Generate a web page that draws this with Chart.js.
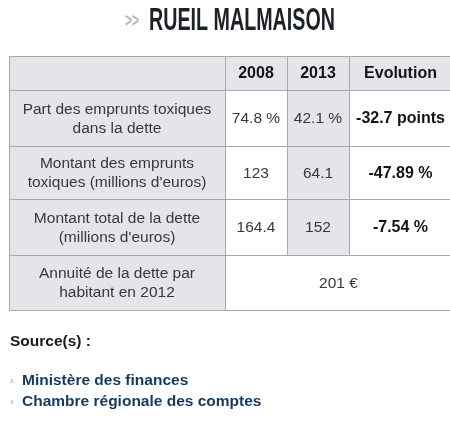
<!DOCTYPE html>
<html>
<head>
<meta charset="utf-8">
<script src="https://cdn.jsdelivr.net/npm/chart.js@4"></script>
<style>
  html, body { margin: 0; padding: 0; background: #fff; overflow: hidden; }
  #wrap { width: 450px; height: 424px; position: relative; }
</style>
</head>
<body>
<div id="wrap"><canvas id="c"></canvas></div>
<script>
// Table content
const pageTitle = 'RUEIL MALMAISON';
const columnHeaders = ['2008', '2013', 'Evolution'];
const rowLabels = [
  ['Part des emprunts toxiques', 'dans la dette'],
  ['Montant des emprunts', "toxiques (millions d'euros)"],
  ['Montant total de la dette', "(millions d'euros)"]
];
const values2008 = [74.8, 123, 164.4];
const values2013 = [42.1, 64.1, 152];
const valueUnits = [' %', '', ''];
const evolution = [-32.7, -47.89, -7.54];
const evolutionUnits = [' points', ' %', ' %'];
const annuityLabel = ['Annuité de la dette par', 'habitant en 2012'];
const annuityValue = 201;
const annuityUnit = ' €';
const sourcesTitle = 'Source(s) :';
const sources = ['Ministère des finances', 'Chambre régionale des comptes'];

// Layout (in scale units = page pixels)
const layout = {
  colEdges: [9, 225, 287, 349, 452],
  rowEdges: [56, 90, 146, 199, 255, 310],
  lineGap: 19
};

const gray = '#e4e5e9';
const border = '#a9a9a9';
const txt = '#383838';
const strong = '#141414';
const FONT = '"Liberation Sans", Arial, sans-serif';

function fmt(v) { return String(v); }

function buildCells() {
  const cells = [];
  cells.push({ c0: 0, c1: 1, r0: 0, r1: 1, fill: gray, lines: [] });
  columnHeaders.forEach((h, i) => {
    cells.push({ c0: i + 1, c1: i + 2, r0: 0, r1: 1, fill: gray, lines: [h], bold: true });
  });
  rowLabels.forEach((lab, i) => {
    const r = i + 1;
    cells.push({ c0: 0, c1: 1, r0: r, r1: r + 1, fill: gray, lines: lab });
    cells.push({ c0: 1, c1: 2, r0: r, r1: r + 1, fill: '#fff', lines: [fmt(values2008[i]) + valueUnits[i]] });
    cells.push({ c0: 2, c1: 3, r0: r, r1: r + 1, fill: gray, lines: [fmt(values2013[i]) + valueUnits[i]] });
    cells.push({ c0: 3, c1: 4, r0: r, r1: r + 1, fill: '#fff', lines: [fmt(evolution[i]) + evolutionUnits[i]], bold: true });
  });
  cells.push({ c0: 0, c1: 1, r0: 4, r1: 5, fill: gray, lines: annuityLabel });
  cells.push({ c0: 1, c1: 4, r0: 4, r1: 5, fill: '#fff', lines: [fmt(annuityValue) + annuityUnit] });
  return cells;
}

const tablePlugin = {
  id: 'tablePlugin',
  afterDraw(chart) {
    const { ctx, scales: { x, y } } = chart;
    const X = v => x.getPixelForValue(v);
    const Y = v => y.getPixelForValue(v);
    const cells = buildCells();
    ctx.save();

    // title
    ctx.textBaseline = 'alphabetic';
    ctx.textAlign = 'left';
    ctx.fillStyle = '#b4b4b4';
    ctx.font = 'bold 20px "Liberation Sans Narrow", ' + FONT;
    let w = ctx.measureText('>>').width;
    ctx.save();
    ctx.translate(X(125), Y(27));
    ctx.scale(14 / w, 1);
    ctx.fillText('>>', 0, 0);
    ctx.restore();
    ctx.fillStyle = '#1c2027';
    ctx.font = 'bold 32px "Liberation Sans Narrow", ' + FONT;
    w = ctx.measureText(pageTitle).width;
    ctx.save();
    ctx.translate(X(149), Y(30));
    ctx.scale(186 / w, 1);
    ctx.fillText(pageTitle, 0, 0);
    ctx.restore();

    // cell fills
    cells.forEach(c => {
      const x0 = X(layout.colEdges[c.c0]), x1 = X(layout.colEdges[c.c1]);
      const y0 = Y(layout.rowEdges[c.r0]), y1 = Y(layout.rowEdges[c.r1]);
      ctx.fillStyle = c.fill;
      ctx.fillRect(x0, y0, x1 - x0, y1 - y0);
    });
    // borders
    ctx.strokeStyle = border;
    ctx.lineWidth = 1;
    cells.forEach(c => {
      const x0 = Math.round(X(layout.colEdges[c.c0])) + 0.5, x1 = Math.round(X(layout.colEdges[c.c1])) + 0.5;
      const y0 = Math.round(Y(layout.rowEdges[c.r0])) + 0.5, y1 = Math.round(Y(layout.rowEdges[c.r1])) + 0.5;
      ctx.strokeRect(x0, y0, x1 - x0, y1 - y0);
    });
    // texts
    ctx.textAlign = 'center';
    ctx.textBaseline = 'middle';
    cells.forEach(c => {
      if (!c.lines.length) return;
      const cx = (X(layout.colEdges[c.c0]) + X(layout.colEdges[c.c1])) / 2;
      const cy = (Y(layout.rowEdges[c.r0]) + Y(layout.rowEdges[c.r1])) / 2 + 1;
      ctx.font = c.bold ? 'bold 16px ' + FONT : '15.5px ' + FONT;
      ctx.fillStyle = c.bold ? strong : txt;
      const n = c.lines.length;
      c.lines.forEach((l, i) => {
        ctx.fillText(l, cx, cy + (i - (n - 1) / 2) * layout.lineGap);
      });
    });

    // sources
    ctx.textAlign = 'left';
    ctx.textBaseline = 'alphabetic';
    ctx.font = 'bold 15.5px ' + FONT;
    ctx.fillStyle = '#1a1a1a';
    ctx.fillText(sourcesTitle, X(10), Y(346));
    sources.forEach((s, i) => {
      const by = Y(385 + i * 21);
      ctx.font = '11px ' + FONT;
      ctx.fillStyle = '#a0a0a0';
      ctx.fillText('\u203A', X(10), by - 1);
      ctx.font = 'bold 15.5px ' + FONT;
      ctx.fillStyle = '#163a5e';
      ctx.fillText(s, X(22), by);
    });
    ctx.restore();
  }
};

new Chart(document.getElementById('c'), {
  type: 'scatter',
  data: { datasets: [{ data: [] }] },
  options: {
    responsive: true,
    maintainAspectRatio: false,
    animation: false,
    layout: { padding: 0 },
    plugins: { legend: { display: false }, tooltip: { enabled: false } },
    scales: {
      x: { type: 'linear', min: 0, max: 450, display: false },
      y: { type: 'linear', min: 0, max: 424, reverse: true, display: false }
    }
  },
  plugins: [tablePlugin]
});
</script>
</body>
</html>
